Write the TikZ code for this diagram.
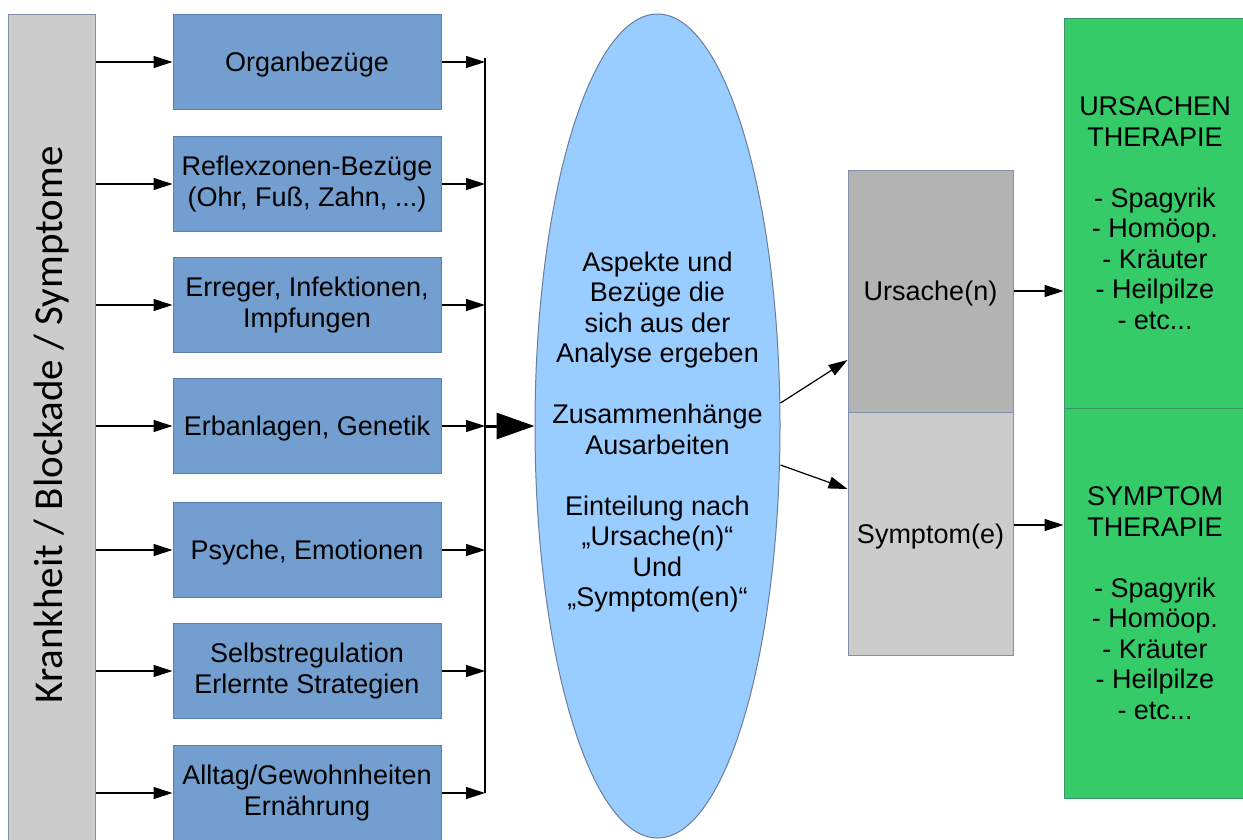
\documentclass[tikz,border=0pt]{standalone}
\usepackage{fontspec}
\setmainfont{Liberation Sans}
\newfontfamily\barfont{Carlito}
\usetikzlibrary{arrows.meta,shapes.geometric}
\definecolor{boxblue}{HTML}{729FCF}
\definecolor{boxblueline}{HTML}{5A7FB0}
\definecolor{bargray}{HTML}{CCCCCC}
\definecolor{darkgray}{HTML}{B3B3B3}
\definecolor{grayline}{HTML}{8190AA}
\definecolor{ellblue}{HTML}{99CCFF}
\definecolor{ellline}{HTML}{6A7F9C}
\definecolor{thgreen}{HTML}{35CB68}
\definecolor{thgreenline}{HTML}{3A9468}
\newcommand{\lowr}[1]{\raisebox{-3pt}[\height][\depth]{#1}}
\tikzset{
  txt/.style={font=\fontsize{27}{30.5}\selectfont, align=center, text=black},
  bluebox/.style={txt, draw=boxblueline, fill=boxblue, line width=1pt, minimum width=268pt, minimum height=95pt, inner sep=0pt},
  graybox/.style={txt, draw=grayline, line width=1pt, minimum width=165pt, minimum height=242pt, inner sep=0pt},
  greenbox/.style={txt, draw=thgreenline, fill=thgreen, line width=1pt, minimum width=182pt, minimum height=390pt, inner sep=0pt},
  arr/.style={line width=1.2pt, -{Triangle[length=19pt,width=12pt]}},
  bigarr/.style={line width=3pt, -{Triangle[length=38pt,width=26pt]}},
}
\begin{document}
\begin{tikzpicture}[x=1pt,y=-1pt]
\useasboundingbox (0,0) rectangle (1243,839);
\clip (0,0) rectangle (1243,839);
\fill[white] (0,0) rectangle (1243,839);
% left bar
\node[draw=grayline, fill=bargray, line width=1pt, minimum width=87pt, minimum height=840pt, inner sep=0pt] (bar) at (51.5,434) {};
\node[rotate=90, font=\barfont\fontsize{41}{47}\selectfont, text=black] (bartext) at (52,425) {Krankheit / Blockade / Symptome};
% blue boxes
\node[bluebox] (b1) at (307,62) {\lowr{Organbezüge}};
\node[bluebox] (b2) at (307,184) {Reflexzonen-Bezüge\\(Ohr, Fuß, Zahn, ...)};
\node[bluebox] (b3) at (307,305) {Erreger, Infektionen,\\Impfungen};
\node[bluebox] (b4) at (307,426) {\lowr{Erbanlagen, Genetik}};
\node[bluebox] (b5) at (307,550) {\lowr{Psyche, Emotionen}};
\node[bluebox] (b6) at (307,671) {Selbstregulation\\Erlernte Strategien};
\node[bluebox] (b7) at (307,793) {Alltag/Gewohnheiten\\Ernährung};
% bus
\coordinate (bustop) at (485,58);
\coordinate (busbot) at (485,793);
\draw[line width=1.2pt] (bustop) -- (busbot);
\foreach \i in {1,...,7}{
  \draw[arr] (bar.east |- b\i.west) -- (b\i.west);
  \draw[arr] (b\i.east) -- (b\i.east -| bustop);
}
% ellipse
\node[ellipse, draw=ellline, fill=ellblue, line width=1pt, minimum width=245pt, minimum height=824pt, inner sep=0pt] (ell) at (657.5,426) {};
\node[txt] (elltext) at (657.5,432)
  {Aspekte und\\Bezüge die\\sich aus der\\Analyse ergeben\\[30.5pt]Zusammenhänge\\Ausarbeiten\\[30.5pt]Einteilung nach\\„Ursache(n)“\\Und\\„Symptom(en)“};
\draw[bigarr] (bustop |- b4.east) -- (ell.west);
% cause / symptom
\node[graybox, fill=darkgray] (urs) at (930.5,291) {\lowr{Ursache(n)}};
\node[graybox, fill=bargray, minimum height=243pt] (sym) at (930.5,533.5) {\lowr{Symptom(e)}};
\draw[arr] ([yshift=23pt]ell.east) -- ([yshift=-69pt]urs.west);
\draw[arr] ([yshift=-39pt]ell.east) -- ([yshift=44.5pt]sym.west);
% therapy
\node[greenbox] (gu) at (1155,213) {URSACHEN\\THERAPIE\\[30.5pt]- Spagyrik\\- Homöop.\\- Kräuter\\- Heilpilze\\- etc...};
\node[greenbox] (gs) at (1155,603) {SYMPTOM\\THERAPIE\\[30.5pt]- Spagyrik\\- Homöop.\\- Kräuter\\- Heilpilze\\- etc...};
\draw[arr] (urs.east) -- (urs.east -| gu.west);
\draw[arr] ([yshift=8.5pt]sym.east) -- ([yshift=8.5pt]sym.east -| gs.west);
\end{tikzpicture}
\end{document}
